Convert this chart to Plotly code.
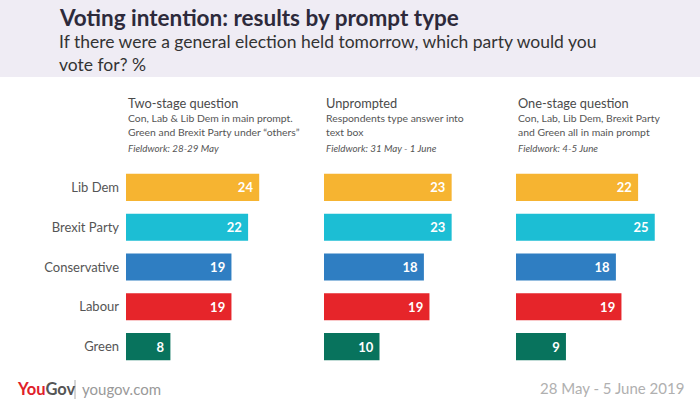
import plotly.graph_objects as go

W, H = 700, 414

parties = ["Lib Dem", "Brexit Party", "Conservative", "Labour", "Green"]
party_colors = ["#f6b431", "#1cbed4", "#2f7ec2", "#e6252a", "#08735d"]
two_stage = [24, 22, 19, 19, 8]
unprompted = [23, 23, 18, 19, 10]
one_stage = [22, 25, 18, 19, 9]

panel_titles = ["Two-stage question", "Unprompted", "One-stage question"]
panel_desc = [
    "Con, Lab & Lib Dem in main prompt.<br>Green and Brexit Party under “others”",
    "Respondents type answer into<br>text box",
    "Con, Lab, Lib Dem, Brexit Party<br>and Green all in main prompt",
]
panel_fieldwork = ["Fieldwork: 28-29 May", "Fieldwork: 31 May - 1 June", "Fieldwork: 4-5 June"]

FONT = "Lato"

def px(x):
    return x / W

def py(y):
    return 1 - y / H

panel_left = [126, 324, 516]
xmax = 30
ppu = 5.55
ydom = [py(366.5), py(167.5)]

fig = go.Figure()
series = [two_stage, unprompted, one_stage]
for i, vals in enumerate(series):
    sfx = "" if i == 0 else str(i + 1)
    fig.add_trace(go.Bar(
        y=parties, x=vals, orientation="h",
        marker=dict(color=party_colors, line=dict(width=0)),
        text=[f"{v}\u2005" for v in vals], textposition="inside", insidetextanchor="end",
        textfont=dict(color="white", size=13, family=FONT, weight="bold"),
        xaxis="x" + sfx, yaxis="y" + sfx, showlegend=False, hoverinfo="skip",
    ))
    left = panel_left[i]
    fig.layout["xaxis" + sfx] = dict(
        domain=[px(left), px(left + xmax * ppu)], range=[0, xmax],
        visible=False, fixedrange=True, anchor="y" + sfx,
    )
    fig.layout["yaxis" + sfx] = dict(
        domain=ydom, autorange="reversed", type="category",
        showticklabels=(i == 0), ticks="", showgrid=False, showline=False, zeroline=False,
        tickfont=dict(family=FONT, size=13, color="#555555"), ticklabelstandoff=6,
        anchor="x" + sfx, fixedrange=True,
    )
    # panel headers
    fig.add_annotation(x=px(left), y=py(103), xref="paper", yref="paper", xanchor="left",
                       yanchor="middle", showarrow=False, text=panel_titles[i],
                       font=dict(family=FONT, size=12.8, color="#4a4a4a"))
    fig.add_annotation(x=px(left), y=py(125), xref="paper", yref="paper", xanchor="left",
                       yanchor="middle", showarrow=False, text=panel_desc[i], align="left",
                       font=dict(family=FONT, size=10.4, color="#555555"))
    fig.add_annotation(x=px(left), y=py(148), xref="paper", yref="paper", xanchor="left",
                       yanchor="middle", showarrow=False,
                       text="<i>" + panel_fieldwork[i] + "</i>",
                       font=dict(family=FONT, size=9.8, color="#555555"))

# header background
fig.add_shape(type="rect", xref="paper", yref="paper", x0=0, x1=1, y0=py(77), y1=1,
              fillcolor="#efecf4", line=dict(width=0), layer="below")

fig.add_annotation(x=px(57), y=py(18), xref="paper", yref="paper", xanchor="left",
                   yanchor="middle", showarrow=False,
                   text="<b>Voting intention: results by prompt type</b>",
                   font=dict(family=FONT, size=22.5, color="#2d2a3b"))
fig.add_annotation(x=px(57), y=py(53), xref="paper", yref="paper", xanchor="left",
                   yanchor="middle", showarrow=False, align="left",
                   text="If there were a general election held tomorrow, which party would you<br>vote for? %",
                   font=dict(family=FONT, size=17.5, color="#333333"))

# footer
fig.add_annotation(x=px(15), y=py(389), xref="paper", yref="paper", xanchor="left",
                   yanchor="middle", showarrow=False,
                   text="<b><span style='color:#e0202a'>You</span><span style='color:#555555'>Gov</span></b>",
                   font=dict(family=FONT, size=16.5, color="#555555"))
fig.add_shape(type="line", xref="paper", yref="paper", x0=px(75), x1=px(75), y0=py(380), y1=py(399),
              line=dict(color="#aaaaaa", width=1))
fig.add_annotation(x=px(80), y=py(389), xref="paper", yref="paper", xanchor="left",
                   yanchor="middle", showarrow=False, text="yougov.com",
                   font=dict(family=FONT, size=15, color="#999999"))
fig.add_annotation(x=px(686), y=py(388), xref="paper", yref="paper", xanchor="right",
                   yanchor="middle", showarrow=False, text="28 May - 5 June 2019",
                   font=dict(family=FONT, size=15, color="#b0b0b0"))

fig.update_layout(
    width=W, height=H, margin=dict(l=0, r=0, t=0, b=0),
    paper_bgcolor="white", plot_bgcolor="white", bargap=0.32,
    font=dict(family=FONT),
)

fig.write_html("out.html", config={"displayModeBar": False},
               post_script="document.body.style.margin='0';")
